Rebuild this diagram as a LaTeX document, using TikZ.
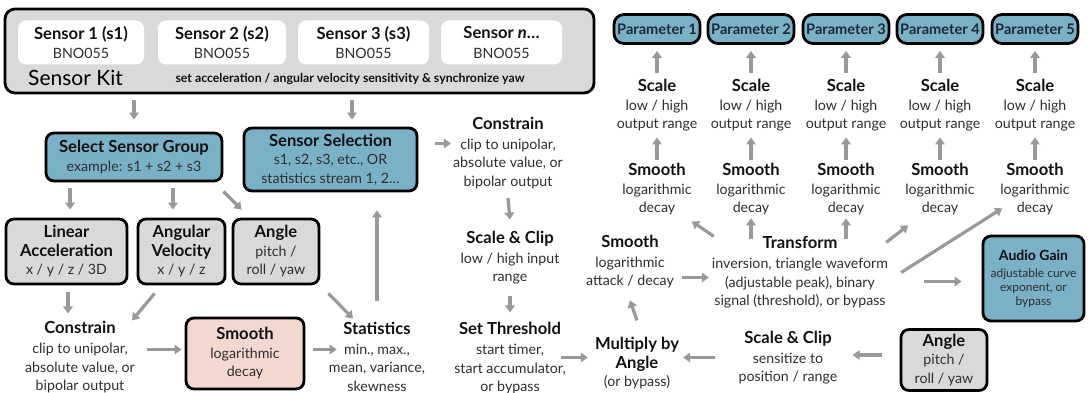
\documentclass[tikz,border=0pt]{standalone}
\usepackage{fontspec}
\setmainfont{Lato}
\usetikzlibrary{arrows.meta,calc}
\definecolor{boxblue}{HTML}{7AB1C7}
\definecolor{boxgray}{HTML}{D9D9D9}
\definecolor{boxpink}{HTML}{F3D8D0}
\definecolor{arrgray}{HTML}{999999}
\definecolor{bodyc}{HTML}{2E2E2E}
\definecolor{titlec}{HTML}{111111}
\definecolor{paramc}{HTML}{1B2A38}
\newcommand\hd[1]{{\fontsize{16.6}{18}\selectfont\bfseries\color{titlec}#1}}
\begin{document}
\begin{tikzpicture}[x=1pt,y=-1pt,
  txt/.style={align=center,inner sep=0pt,text=bodyc,font=\fontsize{14.2}{18.5}\selectfont},
  box/.style={draw=black,line width=2.8pt,rounded corners=8pt,align=center,inner sep=0pt,text=bodyc,font=\fontsize{14.2}{18.5}\selectfont},
  bluebox/.style={box,fill=boxblue},
  graybox/.style={box,fill=boxgray},
  pinkbox/.style={box,fill=boxpink},
  sensor/.style={fill=white,rounded corners=8pt,align=center,inner sep=0pt,text=bodyc,font=\fontsize{14.2}{18.5}\selectfont,minimum height=44pt},
  param/.style={draw=black,line width=2.8pt,rounded corners=10pt,fill=boxblue,inner sep=0pt,text=paramc,font=\bfseries\fontsize{14.6}{16}\selectfont,minimum width=86pt,minimum height=29pt},
  arr/.style={draw=arrgray,line width=3.2pt,-{Triangle[length=7pt,width=9.5pt]}}]
\useasboundingbox (0,0) rectangle (1088,393);

% Sensor kit
\node[graybox,rounded corners=10pt,minimum width=589pt,minimum height=84pt] (kit) at (299.5,51) {};
\node[sensor,minimum width=126pt] (s1) at (81,42.5) {\hd{Sensor 1 (s1)}\\[1pt]BNO055};
\node[sensor,minimum width=128pt] (s2) at (222,42.5) {\hd{Sensor 2 (s2)}\\[1pt]BNO055};
\node[sensor,minimum width=131pt] (s3) at (363.5,42.5) {\hd{Sensor 3 (s3)}\\[1pt]BNO055};
\node[sensor,minimum width=121pt] (sn) at (501.5,42.5) {\hd{Sensor \textit{n}\dots}\\[1pt]BNO055};
\node[inner sep=0pt,text=black,font=\fontsize{21}{24}\selectfont] (kitlabel) at (75.5,78) {Sensor Kit};
\node[inner sep=0pt,text=titlec,font=\bfseries\fontsize{12.3}{14}\selectfont] (kitnote) at (350,79) {set acceleration / angular velocity sensitivity \& synchronize yaw};

% left block
\node[bluebox,minimum width=176pt,minimum height=48pt] (ssg) at (134,157) {\hd{Select Sensor Group}\\[1pt]example: s1 + s2 + s3};
\node[bluebox,minimum width=173pt,minimum height=63pt] (ss) at (330.5,159.5) {\hd{Sensor Selection}\\[0pt]s1, s2, s3, etc., OR\\statistics stream 1, 2\dots};
\node[graybox,minimum width=121pt,minimum height=65pt] (lin) at (66.5,251.5) {\hd{Linear}\\\hd{Acceleration}\\x / y / z / 3D};
\node[graybox,minimum width=87pt,minimum height=65pt] (ang) at (181.5,251.5) {\hd{Angular}\\\hd{Velocity}\\x / y / z};
\node[graybox,minimum width=86pt,minimum height=65pt] (angl) at (276,251.5) {\hd{Angle}\\pitch /\\roll / yaw};
\node[txt] (conl) at (80,357.5) {\hd{Constrain}\\[1.5pt]clip to unipolar,\\absolute value, or\\bipolar output};
\node[pinkbox,minimum width=118pt,minimum height=71pt] (sm) at (245,353.5) {\hd{Smooth}\\logarithmic\\decay};
\node[txt] (stats) at (377,356.5) {\hd{Statistics}\\[1.5pt]min., max.,\\mean, variance,\\skewness};

% middle column
\node[txt] (conm) at (508,153) {\hd{Constrain}\\[1.5pt]clip to unipolar,\\absolute value, or\\bipolar output};
\node[txt] (scm) at (510,257.5) {\hd{Scale \& Clip}\\[1.5pt]low / high input\\range};
\node[txt] (thr) at (510,358.5) {\hd{Set Threshold}\\[1.5pt]start timer,\\start accumulator,\\or bypass};
\node[txt] (mul) at (637,363.5) {\hd{Multiply by}\\\hd{Angle}\\(or bypass)};
\node[txt] (sma) at (630,261.5) {\hd{Smooth}\\[1.5pt]logarithmic\\attack / decay};
\node[txt] (tr) at (800,272.5) {\hd{Transform}\\[1.5pt]inversion, triangle waveform\\(adjustable peak), binary\\signal (threshold), or bypass};
\node[txt] (scr) at (788,357.5) {\hd{Scale \& Clip}\\[1.5pt]sensitize to\\position / range};
\node[graybox,minimum width=86pt,minimum height=61pt] (angr) at (944,360) {\hd{Angle}\\pitch /\\roll / yaw};
\node[bluebox,minimum width=101pt,minimum height=85pt,font=\fontsize{12}{14}\selectfont] (agn) at (1033.5,278.5) {{\fontsize{14}{14}\selectfont\bfseries\color{titlec}Audio Gain}\\[3pt]adjustable curve\\exponent, or\\bypass};

% parameter columns
\foreach \i/\x in {1/657,2/751,3/846,4/940,5/1035}{
  \node[param] (p\i) at (\x,29) {Parameter \i};
  \node[txt] (sc\i) at (\x,105) {\hd{Scale}\\[0.5pt]low / high\\output range};
  \node[txt] (smo\i) at (\x,189) {\hd{Smooth}\\[0.5pt]logarithmic\\decay};
  \draw[arr] ([yshift=3pt]smo\i.north) -- ([yshift=-6pt]sc\i.south);
  \draw[arr] ([yshift=6pt]sc\i.north) -- ([yshift=-6pt]p\i.south);
}

% connectors
\draw[arr] ([yshift=-6pt]kit.south -| ssg.north) -- ([yshift=12pt]ssg.north);
\draw[arr] ([yshift=-6pt]kit.south -| 352,0) -- ([yshift=7pt]ss.north -| 352,0);
\draw[arr] ([yshift=-6pt]ssg.south -| 70,0) -- ([yshift=8pt]lin.north -| 70,0);
\draw[arr] ([yshift=-6pt]ssg.south -| 173,0) -- ([yshift=8pt]ang.north -| 173,0);
\draw[arr] ([yshift=-9pt]ssg.south east) -- ([xshift=10pt,yshift=8pt]angl.north west);
\draw[arr] ([yshift=-7pt]lin.south -| 68,0) -- ([yshift=8pt]conl.north -| 68,0);
\draw[arr] ([xshift=18pt,yshift=-8pt]ang.south west) -- ([xshift=-3pt,yshift=1pt]conl.north east);
\draw[arr] ([xshift=8pt,yshift=-8pt]angl.south east) -- ([xshift=-24pt,yshift=3pt]stats.north);
\draw[arr] ([yshift=21pt]stats.north) -- ([yshift=-18pt]ss.south -| stats.north);
\draw[arr] ([xshift=12pt,yshift=4pt]sm.west -| conl.east) -- ([xshift=-3pt,yshift=4pt]sm.west);
\draw[arr] ([xshift=8pt,yshift=4pt]sm.east) -- ([xshift=8pt,yshift=4pt]sm.east -| stats.west);
\draw[arr] ([xshift=17pt,yshift=16pt]ss.east) -- ([xshift=-2pt,yshift=16pt]ss.east -| conm.west);
\draw[arr] ([yshift=-9pt]conm.south) -- ([yshift=11pt]scm.north);
\draw[arr] ([yshift=-12pt]scm.south) -- ([yshift=10pt]thr.north);
\draw[arr] ([xshift=-5pt,yshift=6pt]mul.west -| thr.east) -- ([xshift=-7pt,yshift=6pt]mul.west);
\draw[arr] ([yshift=17pt]mul.north) -- ([yshift=-12pt]sma.south);
\draw[arr] ([xshift=8pt,yshift=-16pt]sma.east) -- ([xshift=-3pt,yshift=-16pt]sma.east -| tr.west);
\draw[arr] ([xshift=-23pt]scr.west) -- ([xshift=4pt]scr.west -| mul.east);
\draw[arr] ([xshift=-18pt,yshift=5pt]angr.west) -- ([xshift=15pt,yshift=5pt]angr.west -| scr.east);
\draw[arr] ([xshift=36pt,yshift=-3pt]agn.west -| tr.east) -- ([xshift=-20pt,yshift=-3pt]agn.west);
\draw[arr] ([xshift=2pt]tr.north west) -- ([yshift=-6pt]smo1.south east);
\draw[arr] ([yshift=-3pt]tr.north -| smo2.south) -- ([yshift=-3pt]smo2.south);
\draw[arr] ([yshift=-3pt]tr.north -| smo3.south) -- ([yshift=-3pt]smo3.south);
\draw[arr] ([xshift=-2pt,yshift=-6pt]tr.north east) -- ([xshift=3pt,yshift=-10pt]smo4.south west);
\draw[arr] ([xshift=13pt]tr.east) -- ([xshift=2pt,yshift=7pt]smo5.south west);
\end{tikzpicture}
\end{document}
